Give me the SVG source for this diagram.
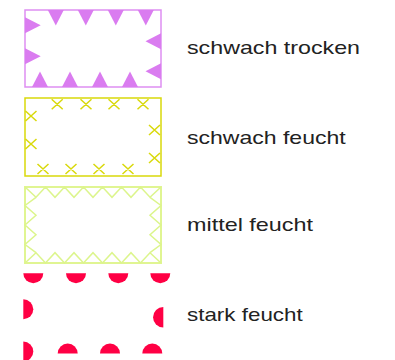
<svg xmlns="http://www.w3.org/2000/svg" width="395" height="360" viewBox="0 0 395 360">
<style>
.lbl{font-family:"Liberation Sans",Arial,sans-serif;font-size:19px;fill:#222;}
.tri{fill:#da7cf0;}
.b1{fill:none;stroke:#de8ef2;stroke-width:1.5;}
.b2{fill:none;stroke:#d9d90a;stroke-width:1.5;}
.x{stroke:#d9d90a;stroke-width:1.5;fill:none;}
.b3{fill:none;stroke:#e0f592;stroke-width:2;}
.z{fill:none;stroke:#dcf58c;stroke-width:1.5;stroke-linejoin:miter;}
.dot{fill:#ff0044;}
</style>
<g id="schwach-trocken">
<rect class="b1" x="25" y="10" width="136" height="77"/>
<polygon class="tri" points="47.8,10 63.8,10 55.8,25.5"/>
<polygon class="tri" points="77.8,10 93.8,10 85.8,25.5"/>
<polygon class="tri" points="107.8,10 123.8,10 115.8,25.5"/>
<polygon class="tri" points="137.8,10 153.8,10 145.8,25.5"/>
<polygon class="tri" points="32,87 48,87 40,71.5"/>
<polygon class="tri" points="62,87 78,87 70,71.5"/>
<polygon class="tri" points="92,87 108,87 100,71.5"/>
<polygon class="tri" points="122,87 138,87 130,71.5"/>
<polygon class="tri" points="25,17.3 25,33.3 40.7,25.3"/>
<polygon class="tri" points="25,48.2 25,64.2 40.7,56.2"/>
<polygon class="tri" points="161,33.2 161,49.2 145.5,41.2"/>
<polygon class="tri" points="161,63.2 161,79.2 145.5,71.2"/>
<text class="lbl" x="187" y="54" textLength="173" lengthAdjust="spacingAndGlyphs">schwach trocken</text>
</g>
<g id="schwach-feucht">
<rect class="b2" x="25" y="98" width="136" height="78"/>
<path class="x" d="M51.7,99.3 L62.7,109.3 M51.7,109.3 L62.7,99.3 M80.5,99.3 L91.5,109.3 M80.5,109.3 L91.5,99.3 M108.5,99.3 L119.5,109.3 M108.5,109.3 L119.5,99.3 M137.5,99.3 L148.5,109.3 M137.5,109.3 L148.5,99.3"/>
<path class="x" d="M37.5,164 L48.5,174 M37.5,174 L48.5,164 M65.5,164 L76.5,174 M65.5,174 L76.5,164 M93.5,164 L104.5,174 M93.5,174 L104.5,164 M122.5,164 L133.5,174 M122.5,174 L133.5,164"/>
<path class="x" d="M25.5,111 L36.5,121 M25.5,121 L36.5,111 M25.5,139 L36.5,149 M25.5,149 L36.5,139"/>
<path class="x" d="M149,125 L160,135 M149,135 L160,125 M149,153 L160,163 M149,163 L160,153"/>
<text class="lbl" x="187" y="144" textLength="158.7" lengthAdjust="spacingAndGlyphs">schwach feucht</text>
</g>
<g id="mittel-feucht">
<rect class="b3" x="25" y="187" width="136" height="76"/>
<path class="z" d="M25,187 L36,197.3 L45.5,187 L55,197.3 L64.5,187 L74,197.3 L83.5,187 L93,197.3 L102.5,187 L112,197.3 L121.5,187 L131,197.3 L140.5,187 L150,197.3 L161,187"/>
<path class="z" d="M25,263 L36,252.7 L45.5,263 L55,252.7 L64.5,263 L74,252.7 L83.5,263 L93,252.7 L102.5,263 L112,252.7 L121.5,263 L131,252.7 L140.5,263 L150,252.7 L161,263"/>
<path class="z" d="M36,197.3 L25,205.5 L36,215.3 L25,225 L36,234.7 L25,244.5 L36,252.7"/>
<path class="z" d="M150,197.3 L161,205.5 L150,215.3 L161,225 L150,234.7 L161,244.5 L150,252.7"/>
<text class="lbl" x="187" y="230.7" textLength="126" lengthAdjust="spacingAndGlyphs">mittel feucht</text>
</g>
<g id="stark-feucht">
<path class="dot" d="M23.3,273.3 A10,10 0 0 0 43.3,273.3 Z"/>
<path class="dot" d="M66,273.3 A10,10 0 0 0 86,273.3 Z"/>
<path class="dot" d="M108.3,273.3 A10,10 0 0 0 128.3,273.3 Z"/>
<path class="dot" d="M150.3,273.3 A10,10 0 0 0 170.3,273.3 Z"/>
<path class="dot" d="M57.7,353.5 A10,10 0 0 1 77.7,353.5 Z"/>
<path class="dot" d="M100,353.5 A10,10 0 0 1 120,353.5 Z"/>
<path class="dot" d="M142.3,353.5 A10,10 0 0 1 162.3,353.5 Z"/>
<path class="dot" d="M23.3,299.3 A10,10 0 0 1 23.3,319.3 Z"/>
<path class="dot" d="M23.3,341.5 A10,10 0 0 1 23.3,361.5 Z"/>
<path class="dot" d="M163.3,307 A10,10 0 0 0 163.3,327.5 Z"/>
<text class="lbl" x="187" y="320.7" textLength="115.7" lengthAdjust="spacingAndGlyphs">stark feucht</text>
</g>
</svg>
